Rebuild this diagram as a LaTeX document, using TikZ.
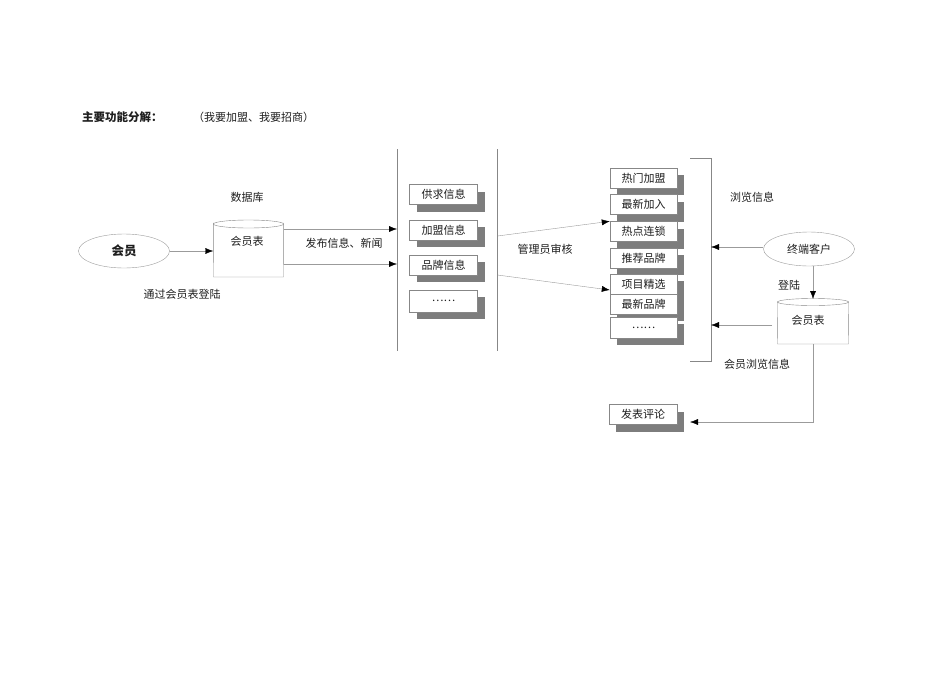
\documentclass[tikz,border=0pt]{standalone}
\usepackage{fontspec}
\setmainfont{Noto Sans CJK SC}
\usetikzlibrary{arrows.meta,shapes.geometric,shadows}
\definecolor{ink}{RGB}{30,30,30}
\definecolor{rule}{RGB}{155,155,155}
\definecolor{frame}{RGB}{135,135,135}
\definecolor{shade}{RGB}{125,125,125}
\tikzset{
  txt/.style={font=\fontsize{11}{13}\selectfont, text=ink, inner sep=0pt},
  entry/.style={draw=frame, fill=white, minimum width=68pt, minimum height=20pt,
              inner sep=0pt, font=\fontsize{11}{13}\selectfont, text=ink,
              drop shadow={shadow xshift=7pt, shadow yshift=-7pt, fill=shade, opacity=1}},
  actor/.style={ellipse, draw=rule, minimum width=91pt, minimum height=34pt,
              inner sep=0pt, text=ink},
  store/.style={minimum width=70pt, minimum height=54pt, inner sep=0pt},
  link/.style={rule, -{Latex[length=8pt,width=6pt,color=black]}},
  wire/.style={frame},
}
\begin{document}
\begin{tikzpicture}[x=1pt,y=-1pt]
    \useasboundingbox (0,0) rectangle (950,672);
    % title
    \node[txt,font=\fontsize{11.5}{13}\selectfont\bfseries,anchor=west] (title) at (82,117) {主要功能分解：};
    \node[txt,anchor=west] (subtitle) at (193,117) {（我要加盟、我要招商）};
    % member side
    \node[actor,font=\fontsize{12.5}{14}\selectfont\bfseries] (member) at (124,251) {会员};
    \node[store] (db) at (248.5,250) {};
    \draw[wire] (db.north west) -- (213.5,277) -- (283.5,277) -- (db.north east);
    \draw[wire] (248.5,224) ellipse (35 and 4);
    \node[txt] (dbname) at (247,241) {会员表};
    \node[txt] (dblabel) at (247,197) {数据库};
    \node[txt] (login) at (182,294) {通过会员表登陆};
    \draw[link] (member) -- (db.west |- member);
    % separators
    \coordinate (sepA-top) at (397,149);
    \coordinate (sepA-bot) at (397,351);
    \coordinate (sepB-top) at (497.5,149);
    \coordinate (sepB-bot) at (497.5,351);
    \draw[wire] (sepA-top) -- (sepA-bot);
    \draw[wire] (sepB-top) -- (sepB-bot);
    \draw[link] (db.east |- 0,229) -- (sepA-top |- 0,229);
    \draw[link] (db.east |- 0,264) -- (sepA-top |- 0,264);
    \node[txt] (publish) at (344,243) {发布信息、新闻};
    % published info
    \node[entry] (supply) at (443.5,194.5) {供求信息};
    \node[entry] (join) at (443.5,230) {加盟信息};
    \node[entry] (brand) at (443.5,265) {品牌信息};
    \node[entry,minimum height=22pt] (more) at (443.5,301) {……};
    % review
    \node[txt] (review) at (545,249) {管理员审核};
    % browse columns
    \node[entry,minimum width=67pt] (hot) at (643.5,178) {热门加盟};
    \node[entry,minimum width=67pt] (newjoin) at (643.5,204.5) {最新加入};
    \node[entry,minimum width=67pt] (chain) at (643.5,231.5) {热点连锁};
    \node[entry,minimum width=67pt] (recommend) at (643.5,258) {推荐品牌};
    \node[entry,minimum width=67pt] (pick) at (643.5,284) {项目精选};
    \node[entry,minimum width=67pt] (newbrand) at (643.5,304) {最新品牌};
    \node[entry,minimum width=67pt,minimum height=21pt] (more2) at (643.5,327.5) {……};
    \draw[link] (sepB-top |- 0,236) -- (chain.north west);
    \draw[link] (sepB-top |- 0,275) -- (pick.west |- 0,290);
    % bracket
    \coordinate (br-top) at (711,158);
    \coordinate (br-bot) at (711,361);
    \draw[wire] (690,158) -- (br-top) -- (br-bot) -- (690,361);
    \node[txt] (browse) at (752,197) {浏览信息};
    % client side
    \node[actor,font=\fontsize{11}{13}\selectfont] (client) at (809,249) {终端客户};
    \node[store,minimum height=42pt] (db2) at (813,323) {};
    \draw[wire] (db2.north west) -- (777.5,344) -- (848.5,344) -- (db2.north east);
    \draw[wire] (813,302) ellipse (35.5 and 3.5);
    \node[txt] (db2name) at (808,320) {会员表};
    \node[txt] (login2) at (789,285) {登陆};
    \node[txt] (browse2) at (757,364) {会员浏览信息};
    \draw[link] (client.west |- 0,247) -- (br-top |- 0,247);
    \draw[link] (client.south -| db2.north) -- (db2.north |- 0,299);
    \draw[link] (772,325) -- (br-top |- 0,325);
    % comment
    \node[entry] (post) at (643,414.5) {发表评论};
    \coordinate (post-in) at (690,422);
    \draw[link] (813,344) -- (813,422) -- (post-in);
\end{tikzpicture}
\end{document}
